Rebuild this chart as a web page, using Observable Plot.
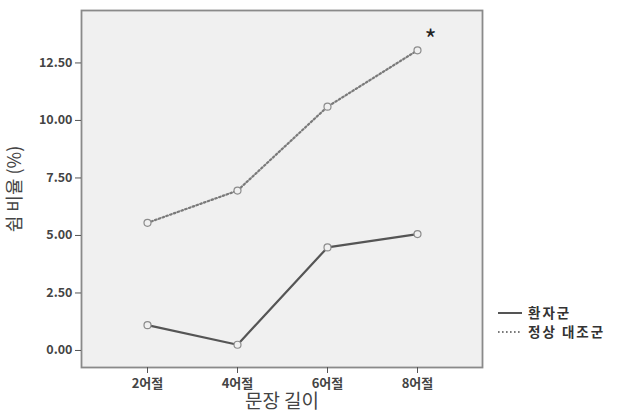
<!DOCTYPE html>
<html>
<head>
<meta charset="utf-8">
<script src="https://cdn.jsdelivr.net/npm/d3@7"></script>
<script src="https://cdn.jsdelivr.net/npm/@observablehq/plot@0.6"></script>
<style>
  html, body { margin: 0; padding: 0; background: #fff; }
  #wrap { position: relative; width: 621px; height: 418px; font-family: "Noto Sans CJK KR", "DejaVu Sans", sans-serif; }
  #legend { position: absolute; left: 498px; top: 303px; font-size: 13.5px; font-weight: 700; color: #333; line-height: 19px; letter-spacing: 2px; }
  #legend div { display: flex; align-items: center; white-space: nowrap; }
  #legend svg { margin-right: 6px; }
</style>
</head>
<body>
<div id="wrap"></div>
<script>
const categories = ["2어절", "4어절", "6어절", "8어절"];
const seriesNames = ["환자군", "정상 대조군"];
const patients = [1.1, 0.25, 4.48, 5.06];
const controls = [5.55, 6.95, 10.6, 13.05];
const yTicks = [0, 2.5, 5, 7.5, 10, 12.5];
const xLabel = "문장 길이";
const yLabel = "쉼 비율 (%)";
const marker = "*";

const rows = [];
categories.forEach((c, i) => {
  rows.push({cat: c, value: patients[i], group: seriesNames[0]});
  rows.push({cat: c, value: controls[i], group: seriesNames[1]});
});
const pRows = rows.filter(d => d.group === seriesNames[0]);
const cRows = rows.filter(d => d.group === seriesNames[1]);

const font = "'Noto Sans CJK KR', 'DejaVu Sans', sans-serif";

const chart = Plot.plot({
  width: 621,
  height: 418,
  marginLeft: 81,
  marginRight: 139,
  marginTop: 10,
  marginBottom: 51,
  style: {fontFamily: font, background: "#fff", color: "#333"},
  x: {type: "point", domain: categories, padding: 0.723, label: null},
  y: {domain: [-0.74, 14.78], label: null},
  marks: [
    Plot.frame({fill: "#f0f0f0", stroke: "#8a8a8a", strokeWidth: 1.8}),
    Plot.axisY({ticks: yTicks, tickFormat: d3.format(".2f"), tickSize: 6, tickPadding: 3, fontSize: 12.5, fontWeight: 700, stroke: "#555", fill: "#444", label: null}),
    Plot.axisX({tickSize: 6, tickPadding: 5, fontSize: 13, fontWeight: 700, stroke: "#555", fill: "#444", label: null}),
    Plot.text([yLabel], {frameAnchor: "left", dx: -66, rotate: -90, fontSize: 18, fill: "#444", textAnchor: "middle", style: {letterSpacing: "3px"}}),
    Plot.text([xLabel], {frameAnchor: "bottom", dy: 40, fontSize: 19, fill: "#444", textAnchor: "middle", style: {letterSpacing: "4px"}}),
    Plot.line(cRows, {x: "cat", y: "value", stroke: "#7a7a7a", strokeWidth: 2.2, strokeDasharray: "1.6,2.4"}),
    Plot.line(pRows, {x: "cat", y: "value", stroke: "#555", strokeWidth: 2.2}),
    Plot.dot(rows, {x: "cat", y: "value", r: 3.5, stroke: "#8c8c8c", fill: "#f0f0f0", strokeWidth: 1.2}),
    Plot.text([cRows[3]], {x: "cat", y: "value", text: () => marker, dx: 13, dy: -10, fontSize: 26, fill: "#222"})
  ]
});

const wrap = document.getElementById("wrap");
wrap.appendChild(chart);
const legend = document.createElement("div");
legend.id = "legend";
legend.innerHTML = `
  <div><svg width="24" height="6"><line x1="0" y1="3" x2="24" y2="3" stroke="#555" stroke-width="2"/></svg>${seriesNames[0]}</div>
  <div><svg width="24" height="6"><line x1="0" y1="3" x2="24" y2="3" stroke="#7a7a7a" stroke-width="2" stroke-dasharray="1.6,2.4"/></svg>${seriesNames[1]}</div>`;
wrap.appendChild(legend);
</script>
</body>
</html>
